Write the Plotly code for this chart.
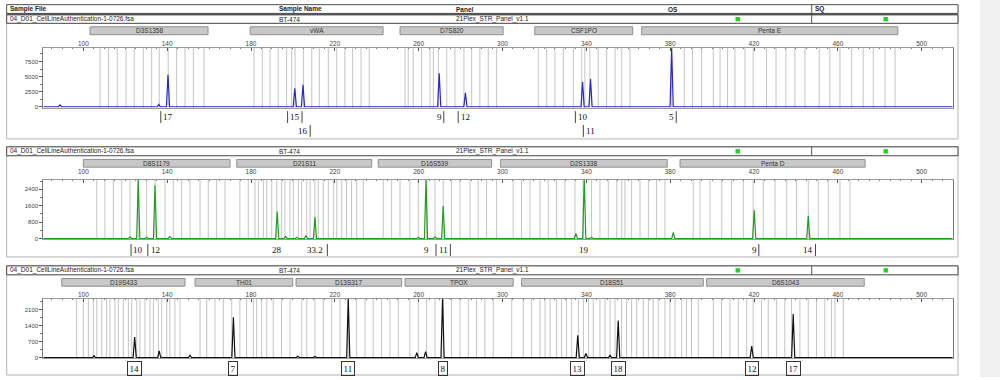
import plotly.graph_objects as go

# ---------------- data ----------------
sample_file = "04_D01_CellLineAuthentication-1-0726.fsa"
sample_name = "BT-474"
panel_name = "21Plex_STR_Panel_v1.1"
header_labels = ["Sample File", "Sample Name", "Panel", "OS", "SQ"]

# panel 1 (blue dye)
p1_markers = ["D3S1358", "vWA", "D7S820", "CSF1PO", "Penta E"]
p1_marker_start = [103.2, 179.6, 251.1, 315.4, 366.4]
p1_marker_end = [159.5, 243.0, 300.3, 362.1, 488.6]
p1_peak_bp = [88.9, 136.0, 140.4, 200.9, 204.8, 269.8, 282.3, 338.2, 342.0, 380.7]
p1_peak_rfu = [300, 400, 5300, 3050, 3650, 5550, 2300, 4080, 4575, 9700]
p1_alleles = ["17", "15", "16", "9", "12", "10", "11", "5"]
p1_allele_bp = [140.4, 200.9, 204.8, 269.8, 282.3, 338.2, 342.0, 380.7]
p1_y_ticks = [0, 2500, 5000, 7500]
p1_bins = [108.0, 112.0, 116.2, 120.4, 124.3, 128.6, 132.6, 136.2, 140.5, 144.5, 148.5, 152.5, 157.6,
           181.4, 185.4, 189.1, 193.0, 197.0, 199.4, 201.0, 205.0, 209.0, 212.6, 216.9, 220.9, 224.8, 228.5, 232.5, 236.4,
           253.5, 255.0, 257.4, 261.4, 265.4, 267.0, 269.4, 273.4, 277.3, 281.6, 285.3, 289.2, 293.2, 297.2,
           317.1, 321.1, 325.0, 329.0, 333.8, 337.8, 339.3, 341.7, 345.7, 349.7, 353.7, 356.9, 360.8,
           380.7, 386.7, 390.7, 395.0, 400.6, 403.8, 407.4, 410.9, 415.7, 419.6, 426.0, 430.5, 435.2, 439.5,
           444.3, 451.1, 456.2, 461.0, 466.6, 472.1, 476.9, 482.5, 487.3]

# panel 2 (green dye)
p2_markers = ["D8S1179", "D21S11", "D16S539", "D2S1338", "Penta D"]
p2_marker_start = [100.0, 173.2, 240.7, 299.1, 384.7]
p2_marker_end = [170.0, 237.6, 294.8, 378.6, 473.0]
p2_peak_bp = [122.3, 126.2, 130.2, 134.2, 141.3, 192.5, 196.5, 201.8, 206.2, 210.5, 259.8, 263.5,
              267.8, 271.7, 335.0, 339.0, 342.5, 381.5, 420.1, 445.9]
p2_peak_rfu = [80, 2900, 60, 2590, 100, 1310, 100, 60, 150, 1040, 60, 2900,
               80, 1580, 250, 2900, 60, 300, 1390, 1100]
p2_alleles = ["10", "12", "28", "33.2", "9", "11", "19", "9", "14"]
p2_allele_bp = [126.2, 134.2, 192.5, 210.5, 263.5, 271.7, 339.0, 420.1, 445.9]
p2_y_ticks = [0, 800, 1600, 2400]
p2_bins = [106.4, 110.3, 114.3, 118.3, 122.3, 126.2, 130.2, 134.2, 139.0, 142.9, 146.9, 150.9, 155.7, 159.6, 163.6, 167.6,
           174.7, 178.7, 181.9, 183.5, 185.9, 187.5, 189.9, 192.3, 194.6, 196.2, 198.6, 200.2, 202.6, 204.2,
           206.6, 208.2, 210.5, 212.1, 214.5, 216.9, 219.3, 220.9, 223.3, 225.6, 228.0, 230.4, 233.6,
           243.1, 247.1, 251.1, 255.8, 259.8, 263.8, 267.8, 271.7, 275.7, 279.7, 284.5, 288.4, 292.4, 297.2,
           305.1, 309.1, 313.1, 317.9, 321.8, 325.8, 329.8, 334.6, 338.5, 342.5, 346.5, 350.5, 354.5, 356.9,
           358.4, 361.6, 365.6, 369.6, 373.5, 377.5,
           391.0, 394.2, 399.0, 404.6, 409.3, 414.9, 419.6, 424.4, 430.0, 435.6, 440.3, 445.9, 450.7, 455.4, 461.0, 465.8]

# panel 3 (black dye)
p3_markers = ["D19S433", "TH01", "D13S317", "TPOX", "D18S51", "D6S1043"]
p3_marker_start = [89.7, 153.3, 201.5, 253.5, 309.1, 397.4]
p3_marker_end = [148.5, 199.9, 251.9, 305.1, 395.8, 472.6]
p3_peak_bp = [105.1, 124.5, 136.2, 150.9, 171.6, 202.3, 210.5, 226.4, 259.1, 263.3, 271.4,
              335.9, 339.8, 351.3, 355.2, 418.9, 438.7]
p3_peak_rfu = [80, 900, 290, 100, 1760, 60, 50, 2600, 215, 260, 2600,
               975, 180, 100, 1620, 500, 1900]
p3_alleles = ["14", "7", "11", "8", "13", "18", "12", "17"]
p3_allele_bp = [124.5, 171.6, 226.4, 271.4, 335.9, 355.2, 418.9, 438.7]
p3_y_ticks = [0, 700, 1400, 2100]
p3_bins = [96.8, 100.0, 102.4, 104.8, 106.4, 108.8, 111.1, 112.7, 115.1, 116.7, 119.1, 121.5, 123.1, 125.5,
           127.0, 129.4, 131.8, 133.4, 135.8, 137.4, 139.8, 141.3, 143.7, 146.1,
           155.7, 158.9, 162.8, 166.8, 170.8, 174.7, 177.9, 181.1, 182.7, 185.1, 187.5, 190.6, 194.6, 198.6,
           204.2, 206.6, 210.5, 214.5, 218.5, 222.5, 226.4, 230.4, 234.4, 238.3, 242.3, 246.3, 250.3,
           255.8, 259.8, 263.8, 267.8, 271.7, 275.7, 279.7, 283.7, 287.6, 291.6, 295.6, 304.4,
           309.9, 313.9, 317.9, 320.3, 322.7, 325.8, 328.2, 330.6, 333.0, 336.2, 338.6, 341.0, 343.3, 346.5,
           348.9, 351.3, 353.7, 356.8, 359.2, 361.6, 364.0, 367.2, 369.6, 371.9, 374.3, 377.5, 379.9, 382.3,
           385.5, 387.8, 390.2, 393.4,
           400.6, 404.5, 408.5, 412.5, 416.5, 419.6, 423.6, 426.8, 430.8, 434.7, 437.9, 441.9, 445.9, 449.8,
           453.8, 457.0, 458.6, 462.6]

# ---------------- styling / layout constants ----------------
W, H = 1000, 380
X_RANGE = [80.9, 514.8]
PLOT_L, PLOT_R = 43.3, 952.7
FRAME_L, FRAME_R = 6.7, 958.0
DIVIDER_X = 811.7
COL_X = [8, 277, 454, 666, 813]
GREEN_X = [737.7, 885.7]
SANS = "Liberation Sans"
SERIF = "Liberation Serif"


def X(px):
    return px / W


def Y(py):
    return 1 - py / H


panels = [
    dict(markers=p1_markers, mstart=p1_marker_start, mend=p1_marker_end,
         peak_bp=p1_peak_bp, peak_rfu=p1_peak_rfu, alleles=p1_alleles, allele_bp=p1_allele_bp,
         bar_side=["l", "b", "r", "r", "l", "l", "l", "r"], boxed=False,
         yticks=p1_y_ticks, yrange=[-150, 9800], bins=p1_bins, color="#2626cc",
         frame=(5, 140), row=(15, 23.5), bars=(27, 35), plot=(48, 108.5), lab=(118, 132), standoff=-2),
    dict(markers=p2_markers, mstart=p2_marker_start, mend=p2_marker_end,
         peak_bp=p2_peak_bp, peak_rfu=p2_peak_rfu, alleles=p2_alleles, allele_bp=p2_allele_bp,
         bar_side=["l", "l", "n", "r", "n", "b", "n", "r", "r"], boxed=False,
         yticks=p2_y_ticks, yrange=[-30, 2870], bins=p2_bins, color="#1f9e1f",
         frame=(148, 259), row=(148, 157), bars=(160.7, 168.5), plot=(181, 241), lab=(252, 265), standoff=2),
    dict(markers=p3_markers, mstart=p3_marker_start, mend=p3_marker_end,
         peak_bp=p3_peak_bp, peak_rfu=p3_peak_rfu, alleles=p3_alleles, allele_bp=p3_allele_bp,
         bar_side=None, boxed=True,
         yticks=p3_y_ticks, yrange=[-25, 2570], bins=p3_bins, color="#111111",
         frame=(268, 378), row=(268, 277), bars=(280.7, 288.5), plot=(301, 361), lab=(371, 384), standoff=-2),
]

fig = go.Figure()
shapes = []
annotations = []

# right grey strip
shapes.append(dict(type="rect", xref="paper", yref="paper", x0=X(980), x1=1, y0=0, y1=1,
                   fillcolor="#f0f0f0", line=dict(width=0), layer="below"))

# header row of panel 1
shapes.append(dict(type="rect", xref="paper", yref="paper", x0=X(FRAME_L), x1=X(FRAME_R),
                   y0=Y(13.5), y1=Y(4.7), fillcolor="white", line=dict(color="#555", width=1)))
for txt, cx in zip(header_labels, COL_X):
    annotations.append(dict(text=f"<b>{txt}</b>", xref="paper", yref="paper", x=X(cx), y=Y(9.2),
                            xanchor="left", yanchor="middle", showarrow=False,
                            font=dict(family=SANS, size=6.5, color="#222")))
shapes.append(dict(type="line", xref="paper", yref="paper", x0=X(DIVIDER_X), x1=X(DIVIDER_X),
                   y0=Y(4.7), y1=Y(13.5), line=dict(color="#555", width=1)))

for i, P in enumerate(panels):
    sfx = "" if i == 0 else str(i + 1)
    xr, yr = "x" + sfx, "y" + sfx

    # panel frame
    shapes.append(dict(type="rect", xref="paper", yref="paper", x0=X(FRAME_L), x1=X(FRAME_R),
                       y0=Y(P["frame"][1]), y1=Y(P["frame"][0]), line=dict(color="#b4b4b4", width=1),
                       fillcolor="rgba(0,0,0,0)", layer="below"))
    # info row
    r0, r1 = P["row"]
    shapes.append(dict(type="rect", xref="paper", yref="paper", x0=X(FRAME_L), x1=X(FRAME_R),
                       y0=Y(r1), y1=Y(r0), line=dict(color="#444", width=1), fillcolor="white"))
    if i == 0:
        shapes.append(dict(type="line", xref="paper", yref="paper", x0=X(FRAME_L), x1=X(FRAME_R),
                           y0=Y(14.2), y1=Y(14.2), line=dict(color="#555", width=2)))
    shapes.append(dict(type="line", xref="paper", yref="paper", x0=X(DIVIDER_X), x1=X(DIVIDER_X),
                       y0=Y(r1), y1=Y(r0), line=dict(color="#555", width=1)))
    rc = (r0 + r1) / 2
    for txt, cx in zip([sample_file, sample_name, panel_name], COL_X[:3]):
        annotations.append(dict(text=txt, xref="paper", yref="paper", x=X(cx), y=Y(rc),
                                xanchor="left", yanchor="middle", showarrow=False,
                                font=dict(family=SANS, size=6.5, color="#222")))
    for gx in GREEN_X:
        shapes.append(dict(type="rect", xref="paper", yref="paper", x0=X(gx - 2.2), x1=X(gx + 2.2),
                           y0=Y(rc + 2.2), y1=Y(rc - 2.2), fillcolor="#1ed21e", line=dict(width=0)))

    # marker (locus) bars
    b0, b1 = P["bars"]
    for name, s, e in zip(P["markers"], P["mstart"], P["mend"]):
        shapes.append(dict(type="rect", xref=xr, yref="paper", x0=s, x1=e, y0=Y(b1), y1=Y(b0),
                           fillcolor="#c8c8c8", line=dict(color="#8f8f8f", width=1)))
        annotations.append(dict(text=name, xref=xr, yref="paper", x=(s + e) / 2, y=Y((b0 + b1) / 2),
                                xanchor="center", yanchor="middle", showarrow=False,
                                font=dict(family=SANS, size=6.5, color="#333")))

    # bin lines
    for b in P["bins"]:
        shapes.append(dict(type="line", xref=xr, yref=yr + " domain", x0=b, x1=b, y0=0, y1=1,
                           line=dict(color="#c4c4c4", width=1), layer="below"))

    # electropherogram trace
    hw = 0.75
    xs, ys = [X_RANGE[0]], [0]
    for bp, h in sorted(zip(P["peak_bp"], P["peak_rfu"])):
        xs += [bp - hw, bp, bp + hw]
        ys += [0, h, 0]
    xs.append(X_RANGE[1])
    ys.append(0)
    fig.add_trace(go.Scatter(x=xs, y=ys, mode="lines", xaxis=xr, yaxis=yr,
                             line=dict(color=P["color"], width=1.2), hoverinfo="skip"))

    # allele labels
    prev = None
    for k, (lab, bp) in enumerate(zip(P["alleles"], P["allele_bp"])):
        row = 1 if (prev is not None and bp - prev < 6) else 0
        prev = bp
        ly = P["lab"][row]
        if P["boxed"]:
            annotations.append(dict(text=lab, xref=xr, yref="paper", x=bp, y=Y(ly),
                                    xanchor="center", yanchor="middle", showarrow=False,
                                    bordercolor="#333", borderwidth=1, borderpad=1.5,
                                    font=dict(family=SERIF, size=9, color="#111")))
        else:
            annotations.append(dict(text=lab, xref=xr, yref="paper", x=bp, y=Y(ly),
                                    xanchor="center", yanchor="middle", showarrow=False,
                                    font=dict(family=SERIF, size=9, color="#111")))
            half = len(lab) * 2.6 + 2
            side = P["bar_side"][k]
            offs = []
            if side in ("l", "b"):
                offs.append(-half)
            if side in ("r", "b"):
                offs.append(half)
            for o in offs:
                shapes.append(dict(type="line", xref=xr, yref="paper", xsizemode="pixel", xanchor=bp,
                                   x0=o, x1=o, y0=Y(ly + 6), y1=Y(ly - 6),
                                   line=dict(color="#444", width=1)))

    yt = P["yticks"]
    fig.layout["xaxis" + sfx] = dict(
        domain=[X(PLOT_L), X(PLOT_R)], range=X_RANGE, anchor=yr, side="top",
        tick0=100, dtick=40, ticks="inside", ticklen=3, tickcolor="#555",
        tickfont=dict(family=SANS, size=6.5, color="#444"), ticklabelstandoff=P["standoff"],
        minor=dict(dtick=5, ticks="inside", ticklen=1.5, tickcolor="#777"),
        showgrid=False, zeroline=False, showline=True, linecolor="#9a9a9a", linewidth=1, mirror=True,
        fixedrange=True)
    fig.layout["yaxis" + sfx] = dict(
        domain=[Y(P["plot"][1]), Y(P["plot"][0])], range=P["yrange"], anchor=xr,
        tickvals=yt, ticks="outside", ticklen=3, tickcolor="#555",
        tickfont=dict(family=SANS, size=6, color="#444"),
        minor=dict(dtick=yt[1] / 2, tick0=0, ticks="outside", ticklen=2, tickcolor="#777"),
        showgrid=False, zeroline=False, showline=True, linecolor="#777", linewidth=1, mirror=True,
        fixedrange=True)

fig.update_layout(width=W, height=H, margin=dict(l=0, r=0, t=0, b=0),
                  paper_bgcolor="white", plot_bgcolor="white", showlegend=False,
                  shapes=shapes, annotations=annotations)
fig.write_html("out.html", config={"displayModeBar": False},
               post_script="document.body.style.margin='0';document.body.style.overflow='hidden';")
